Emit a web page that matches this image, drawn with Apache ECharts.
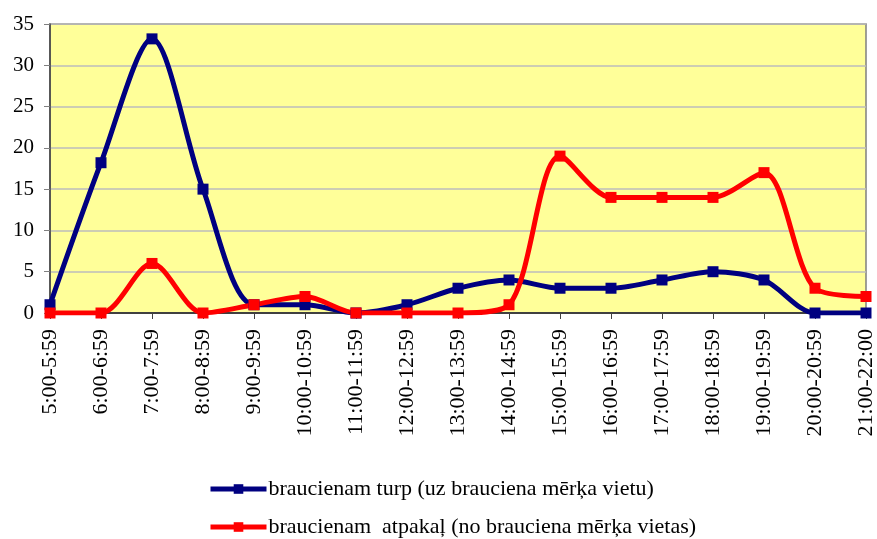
<!DOCTYPE html>
<html><head><meta charset="utf-8">
<script src="https://cdn.jsdelivr.net/npm/echarts@6/dist/echarts.min.js"></script>
<style>html,body{margin:0;padding:0;background:#fff}#c{width:877px;height:539px}</style>
</head><body><div id="c"></div>
<script>
const categories = ['5:00-5:59','6:00-6:59','7:00-7:59','8:00-8:59','9:00-9:59','10:00-10:59','11:00-11:59','12:00-12:59','13:00-13:59','14:00-14:59','15:00-15:59','16:00-16:59','17:00-17:59','18:00-18:59','19:00-19:59','20:00-20:59','21:00-22:00'];
const seriesTurpName = 'braucienam turp (uz brauciena mērķa vietu)';
const seriesTurp = [1, 18.2, 33.2, 15, 1, 1, 0, 1, 3, 4, 3, 3, 4, 5, 4, 0, 0];
const seriesAtpakalName = 'braucienam  atpakaļ (no brauciena mērķa vietas)';
const seriesAtpakal = [0, 0, 6, 0, 1, 2, 0, 0, 0, 1, 19, 14, 14, 14, 17, 3, 2];

const chart = echarts.init(document.getElementById('c'));
const font = 'Liberation Serif';
chart.setOption({
  animation: false,
  grid: { left: 50, right: 6, top: 24, bottom: 226, show: true, backgroundColor: '#FFFF99', borderColor: '#808080', borderWidth: 1.5 },
  xAxis: {
    type: 'category', data: categories, boundaryGap: false,
    axisLine: { lineStyle: { color: '#404040', width: 2 } },
    axisTick: { show: true, length: 6, lineStyle: { color: '#404040' } },
    axisLabel: { rotate: 90, color: '#000', fontFamily: font, fontSize: 22, margin: 16, interval: 0 }
  },
  yAxis: {
    type: 'value', min: 0, max: 35, interval: 5,
    axisLine: { show: true, lineStyle: { color: '#404040', width: 1.5 } },
    axisTick: { show: true, length: 6, lineStyle: { color: '#808080' } },
    axisLabel: { color: '#000', fontFamily: font, fontSize: 21, margin: 16 },
    splitLine: { lineStyle: { color: '#BDBDBD', width: 1.5 } }
  },
  legend: {
    orient: 'vertical', left: 208, top: 478, height: 62, padding: 0, itemGap: 16, itemWidth: 56, itemHeight: 12,
    textStyle: { fontFamily: font, fontSize: 22, color: '#000', padding: [0, 0, 0, -3] },
    lineStyle: { width: 5 },
    data: [seriesTurpName, seriesAtpakalName]
  },
  series: [
    { name: seriesTurpName, type: 'line', data: seriesTurp, smooth: 0.3, symbol: 'rect', symbolSize: 11,
      lineStyle: { color: '#000080', width: 5 }, itemStyle: { color: '#000080' } },
    { name: seriesAtpakalName, type: 'line', data: seriesAtpakal, smooth: 0.3, symbol: 'rect', symbolSize: 11,
      lineStyle: { color: '#FF0000', width: 5 }, itemStyle: { color: '#FF0000' } }
  ]
});
</script></body></html>
